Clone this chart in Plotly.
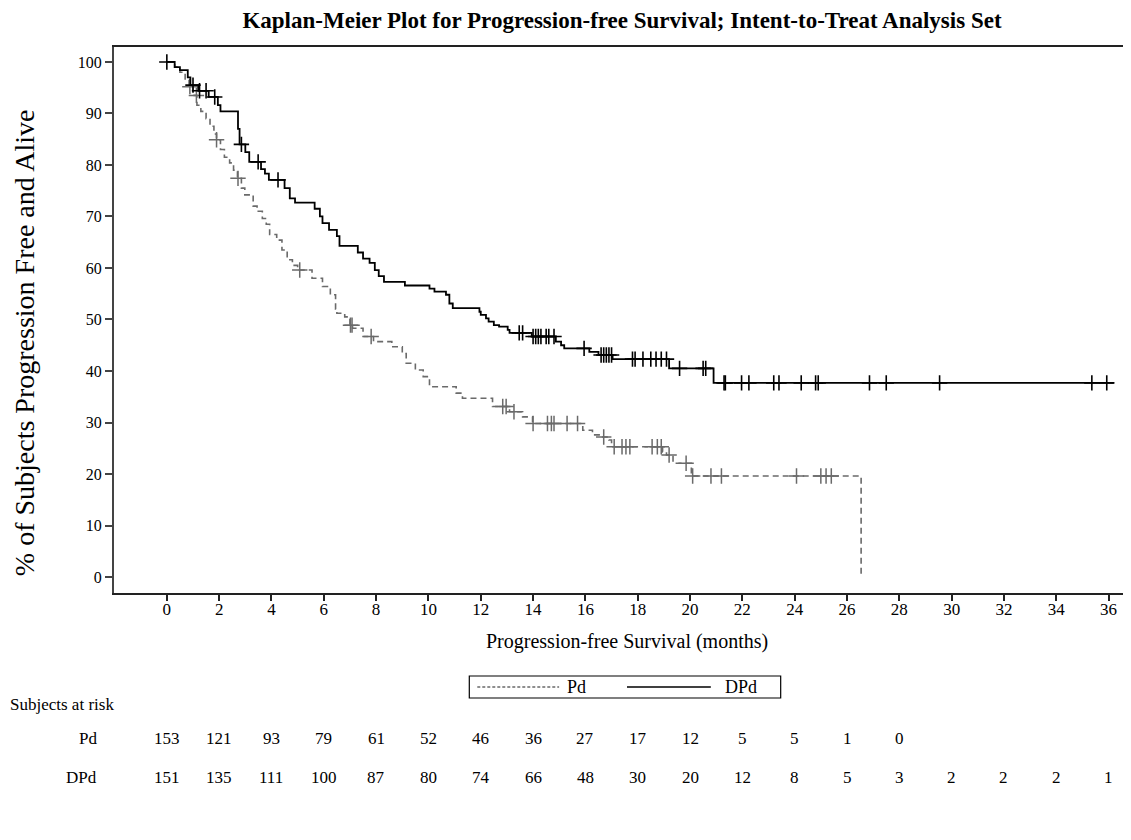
import plotly.graph_objects as go
import numpy as np

# ---------------- data ----------------
# Pd arm: step times (months) and KM survival (%) after each step
pd_t = [0, 0.3, 0.5, 0.7, 0.85, 1.0, 1.15, 1.3, 1.5, 1.65, 1.8, 1.9, 2.05, 2.2, 2.4, 2.55, 2.7,
        2.85, 2.98, 3.3, 3.45, 3.65, 3.8, 3.93, 4.2, 4.4, 4.6, 4.8, 5.0, 5.55, 5.95, 6.25, 6.45,
        6.5, 6.8, 7.0, 7.1, 7.5, 7.9, 8.6, 9.0, 9.15, 9.5, 9.8, 10.04, 11.06, 11.3, 12.45, 13.1,
        13.6, 13.98, 15.9, 16.27, 16.6, 16.9, 17.0, 18.95, 19.1, 19.35, 20.05, 26.54]
pd_s = [100, 99, 98, 96.5, 95.2, 93.5, 91.6, 90.4, 89, 87.5, 86, 84.9, 83, 81.5, 80.4, 79, 77.4,
        75.5, 74.2, 72, 71, 69.6, 68.5, 66.5, 65.4, 63.5, 61.6, 60.5, 59.6, 58, 56.4, 54.8, 52,
        51.2, 50.5, 48.9, 48.3, 46.7, 45.7, 44.7, 43.4, 41.5, 40.2, 38.9, 36.95, 35.7, 34.7, 33.1, 32.1,
        31.1, 29.8, 28.5, 27.6, 27.2, 26.6, 25.3, 24.3, 23.7, 22.1, 19.6, 0]
pd_cens = [0.88, 1.13, 1.9, 2.72, 5.08, 7.02, 7.08, 7.81, 12.84, 12.97, 13.27, 14.0, 14.55, 14.7,
           14.8, 15.3, 15.7, 16.7, 17.1, 17.4, 17.55, 17.7, 18.55, 18.75, 18.9, 19.2, 19.85, 20.1,
           20.8, 21.2, 24.07, 25.0, 25.2, 25.4]

# DPd arm
dpd_t = [0, 0.3, 0.5, 0.8, 0.9, 1.2, 1.6, 1.95, 2.05, 2.72, 2.78, 3.0, 3.15, 3.6, 3.75, 3.9, 4.5,
         4.7, 4.9, 5.65, 5.85, 5.95, 6.2, 6.5, 6.6, 7.3, 7.5, 7.75, 7.95, 8.1, 8.3, 9.1, 10.04,
         10.23, 10.67, 10.8, 10.93, 11.95, 12.0, 12.2, 12.3, 12.5, 12.7, 13.03, 13.1, 13.95, 14.87,
         15.07, 15.19, 16.15, 16.5, 17.04, 19.2, 20.9]
dpd_s = [100, 99, 98.4, 97, 95.5, 94.4, 93.2, 91.6, 90.4, 87, 84, 82.5, 80.6, 79.2, 78.3, 77.1, 75.5,
         73.5, 72.7, 71.5, 70, 68.7, 67.4, 66.2, 64.3, 63, 61.8, 61, 59.6, 58.4, 57.3, 56.6, 56.0,
         55.4, 54.8, 53.1, 52.2, 51.5, 50.9, 50.2, 49.6, 48.9, 48.6, 48.0, 47.4, 46.7, 45.7,
         45.0, 44.4, 43.7, 43.1, 42.3, 40.5, 37.7]
dpd_end = 36.2
dpd_cens = [0.0, 1.0, 1.25, 1.5, 1.83, 2.85, 3.49, 4.25, 13.47, 13.6, 14.0, 14.1, 14.2, 14.3, 14.5,
            14.6, 14.8, 15.95, 16.6, 16.7, 16.8, 16.9, 17.0, 17.8, 17.9, 18.2, 18.5, 18.7, 18.9,
            19.1, 19.6, 20.5, 20.6, 21.3, 21.35, 21.97, 22.25, 23.2, 23.4, 24.25, 24.8, 24.9,
            26.86, 27.5, 29.54, 35.36, 35.93]

risk_times = list(range(0, 37, 2))
pd_risk = [153, 121, 93, 79, 61, 52, 46, 36, 27, 17, 12, 5, 5, 1, 0]
dpd_risk = [151, 135, 111, 100, 87, 80, 74, 66, 48, 30, 20, 12, 8, 5, 3, 2, 2, 2, 1]

title = "Kaplan-Meier Plot for Progression-free Survival; Intent-to-Treat Analysis Set"
x_title = "Progression-free Survival (months)"
y_title = "% of Subjects Progression Free and Alive"

# ---------------- helpers ----------------
def step_value(times, surv, c):
    idx = np.searchsorted(np.array(times), np.array(c), side="right") - 1
    return list(np.array(surv)[idx])

FONT = "Liberation Serif"
PD_COLOR = "#6a6a6a"
DPD_COLOR = "#000000"

fig = go.Figure()

# Pd
fig.add_trace(go.Scatter(x=pd_t, y=pd_s, mode="lines", line_shape="hv",
                         line=dict(color=PD_COLOR, width=1.6, dash="6px,4px"),
                         showlegend=False, hoverinfo="skip"))
fig.add_trace(go.Scatter(x=pd_cens, y=step_value(pd_t, pd_s, pd_cens), mode="markers",
                         marker=dict(symbol="cross-thin", size=11,
                                     line=dict(color=PD_COLOR, width=1.5)),
                         showlegend=False, hoverinfo="skip"))
# DPd
fig.add_trace(go.Scatter(x=dpd_t + [dpd_end], y=dpd_s + [dpd_s[-1]], mode="lines", line_shape="hv",
                         line=dict(color=DPD_COLOR, width=1.8),
                         showlegend=False, hoverinfo="skip"))
fig.add_trace(go.Scatter(x=dpd_cens, y=step_value(dpd_t, dpd_s, dpd_cens), mode="markers",
                         marker=dict(symbol="cross-thin", size=11,
                                     line=dict(color=DPD_COLOR, width=1.6)),
                         showlegend=False, hoverinfo="skip"))

# page has an 8px body margin: figure is offset by (8, 8)
OFF = 8
W, HH = 1131 - OFF, 840 - OFF
# plot area in page px: left 114, top 47, bottom 593, right 1131
L, R = 114 - OFF, 0
T = 47 - OFF
B = HH - (593 - OFF)
PH = HH - T - B
PW = W - L - R

def ypaper(py):
    return ((593 - OFF) - (py - OFF)) / PH

def xpaper(px):
    return (px - OFF - L) / PW

annotations = []
# risk table
annotations.append(dict(x=xpaper(8), y=ypaper(704), xref="paper", yref="paper", text="Subjects at risk",
                        showarrow=False, xanchor="left", yanchor="middle",
                        font=dict(family=FONT, size=17, color="black")))
for label, vals, ypx in [("Pd", pd_risk, 738), ("DPd", dpd_risk, 777)]:
    annotations.append(dict(x=xpaper(99), y=ypaper(ypx), xref="paper", yref="paper", text=label,
                            showarrow=False, xanchor="right", yanchor="middle",
                            font=dict(family=FONT, size=17, color="black")))
    for t, v in zip(risk_times, vals):
        annotations.append(dict(x=t, y=ypaper(ypx), xref="x", yref="paper", text=str(v),
                                showarrow=False, xanchor="center", yanchor="middle",
                                font=dict(family=FONT, size=17, color="black")))

# axis titles as annotations (page px positions)
annotations.append(dict(x=xpaper(628), y=ypaper(641), xref="paper", yref="paper", text=x_title,
                        showarrow=False, xanchor="center", yanchor="middle",
                        font=dict(family=FONT, size=20, color="black")))
annotations.append(dict(x=xpaper(24), y=ypaper(343), xref="paper", yref="paper", text=y_title,
                        showarrow=False, xanchor="center", yanchor="middle", textangle=-90,
                        font=dict(family=FONT, size=28, color="black")))

# manual legend
lx0, lx1, ly0, ly1 = 470, 782, 676, 698
shapes = [dict(type="rect", xref="paper", yref="paper", x0=xpaper(lx0), x1=xpaper(lx1),
               y0=ypaper(ly1), y1=ypaper(ly0), line=dict(color="black", width=1.2))]
ymid = ypaper((ly0 + ly1) / 2)
shapes.append(dict(type="line", xref="paper", yref="paper", x0=xpaper(478), x1=xpaper(560),
                   y0=ymid, y1=ymid, line=dict(color=PD_COLOR, width=1.3, dash="3px,2px")))
shapes.append(dict(type="line", xref="paper", yref="paper", x0=xpaper(628), x1=xpaper(712),
                   y0=ymid, y1=ymid, line=dict(color="black", width=1.3)))
annotations.append(dict(x=xpaper(566), y=ymid, xref="paper", yref="paper", text="Pd", showarrow=False,
                        xanchor="left", yanchor="middle", font=dict(family=FONT, size=18, color="black")))
annotations.append(dict(x=xpaper(724), y=ymid, xref="paper", yref="paper", text="DPd", showarrow=False,
                        xanchor="left", yanchor="middle", font=dict(family=FONT, size=18, color="black")))

fig.update_layout(
    width=W, height=HH,
    margin=dict(l=L, r=R, t=T, b=B, pad=0),
    paper_bgcolor="white", plot_bgcolor="white",
    title=dict(text="<b>" + title + "</b>", xref="container", x=(622 - OFF) / W, xanchor="center",
               yref="container", y=1 - (20 - OFF) / HH, yanchor="middle",
               font=dict(family=FONT, size=23, color="black")),
    annotations=annotations, shapes=shapes,
    xaxis=dict(range=[-2.02, 36.78], tickmode="array", tickvals=risk_times,
               ticks="outside", ticklen=6, tickwidth=1.5, tickcolor="#222",
               showline=True, linecolor="#222", linewidth=2, mirror=True,
               showgrid=False, zeroline=False, ticklabelstandoff=-6,
               tickfont=dict(family=FONT, size=17, color="black")),
    yaxis=dict(range=[-3.1, 102.9], tickmode="array", tickvals=list(range(0, 101, 10)),
               ticks="outside", ticklen=7, tickwidth=1.5, tickcolor="#444",
               showline=True, linecolor="#444", linewidth=2, mirror=True,
               showgrid=False, zeroline=False,
               tickfont=dict(family=FONT, size=16, color="black")),
)

fig.write_html("out.html")
